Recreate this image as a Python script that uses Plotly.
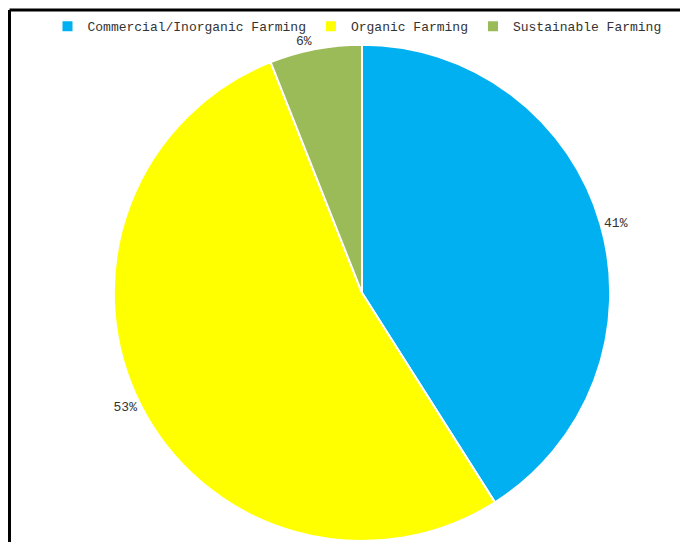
import plotly.graph_objects as go

categories = ["Commercial/Inorganic Farming", "Organic Farming", "Sustainable Farming"]
values = [41, 53, 6]
colors = ["#00B0F0", "#FFFF00", "#9BBB59"]

W, H = 680, 546
cx, cy, r = 362, 295, 250

fig = go.Figure(go.Pie(
    labels=categories,
    values=values,
    sort=False,
    direction="clockwise",
    rotation=0,
    marker=dict(colors=colors, line=dict(color="white", width=2)),
    texttemplate="%{percent:.0%}",
    textposition="outside",
    textfont=dict(family="Liberation Mono", size=13, color="#333333"),
    domain=dict(x=[(cx - r) / W, (cx + r) / W], y=[max(0, 1 - (cy + r) / H), 1 - (cy - r) / H]),
    showlegend=True,
))

fig.update_layout(
    width=W, height=H,
    margin=dict(l=0, r=0, t=0, b=0),
    paper_bgcolor="white",
    plot_bgcolor="white",
    legend=dict(
        orientation="h", x=0.525, xanchor="center", y=0.979, yanchor="top",
        bgcolor="rgba(0,0,0,0)",
        font=dict(family="Liberation Mono", size=13, color="#333333"),
        itemwidth=30, tracegroupgap=0,
    ),
    shapes=[
        dict(type="line", xref="paper", yref="paper", x0=9.5 / W, x1=1, y0=1 - 10 / H, y1=1 - 10 / H,
             line=dict(color="black", width=3), layer="above"),
        dict(type="line", xref="paper", yref="paper", x0=9.5 / W, x1=9.5 / W, y0=0, y1=1 - 10 / H,
             line=dict(color="black", width=3), layer="above"),
    ],
)

fig.write_html("out.html")
